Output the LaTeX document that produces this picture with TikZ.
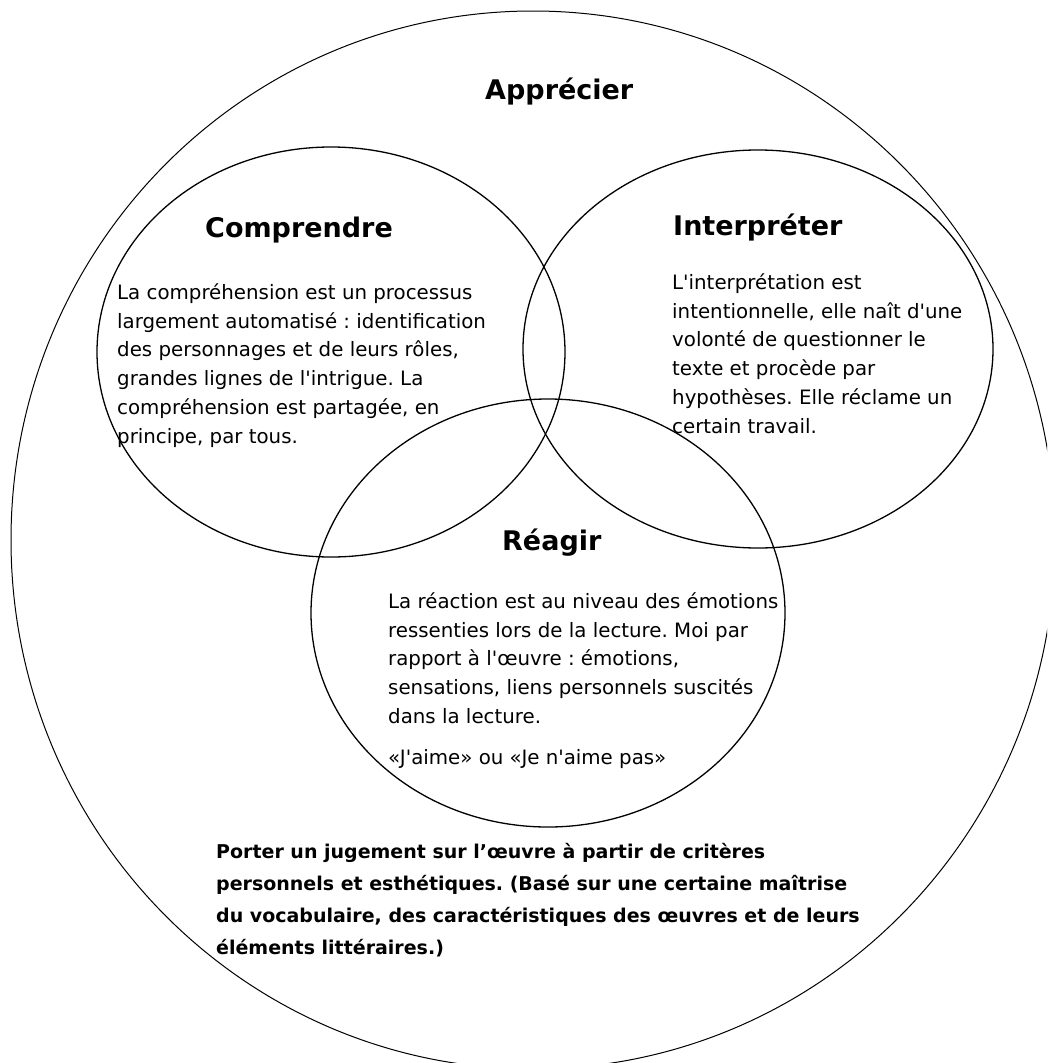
\documentclass[tikz,border=0pt]{standalone}
\usepackage{fontspec}
\setmainfont{DejaVu Sans}
\newfontfamily\bodyfont{DejaVu Sans}
\usetikzlibrary{shapes.geometric}
\tikzset{
  ring/.style={draw=black, ellipse, line width=1.3pt, inner sep=0pt},
  outerring/.style={draw=black, ellipse, line width=1pt, inner sep=0pt},
  title/.style={font=\bodyfont\bfseries\fontsize{27}{32}\selectfont, anchor=base west, inner sep=0pt},
  body/.style={font=\bodyfont\fontsize{19.8}{28.8}\selectfont\frenchspacing, align=left, anchor=north west, inner sep=0pt},
  boldbody/.style={font=\bodyfont\bfseries\fontsize{19}{32}\selectfont\frenchspacing, align=left, anchor=north west, inner sep=0pt}
}
\newcommand{\topstrut}{\rule{0pt}{17pt}}
\begin{document}
\begin{tikzpicture}[x=1pt,y=-1pt]
\clip (0,0) rectangle (1047,1063);
\fill[white] (0,0) rectangle (1047,1063);
% circles
\node[outerring, minimum width=1044pt, minimum height=1058pt] (apprecier) at (533,540) {};
\node[ring, minimum width=468pt, minimum height=410pt] (comprendre) at (331,352) {};
\node[ring, minimum width=470pt, minimum height=398pt] (interpreter) at (758,349) {};
\node[ring, minimum width=474pt, minimum height=428pt] (reagir) at (548,613) {};
% titles
\node[title] (tapp) at (485,99) {Apprécier};
\node[title] (tcomp) at (205,237) {Comprendre};
\node[title] (tint) at (673,235) {Interpréter};
\node[title] (trea) at (502,550) {Réagir};
% bodies
\node[body] (bcomp) at (117,282) {\topstrut La compréhension est un processus\\
largement automatisé : identification\\
des personnages et de leurs rôles,\\
grandes lignes de l'intrigue. La\\
compréhension est partagée, en\\
principe, par tous.};
\node[body] (bint) at (672,272) {\topstrut L'interprétation est\\
intentionnelle, elle naît d'une\\
volonté de questionner le\\
texte et procède par\\
hypothèses. Elle réclame un\\
certain travail.};
\node[body] (brea) at (388,591) {\topstrut La réaction est au niveau des émotions\\
ressenties lors de la lecture. Moi par\\
rapport à l'œuvre : émotions,\\
sensations, liens personnels suscités\\
dans la lecture.\\[12pt]
«J'aime» ou «Je n'aime pas»};
\node[boldbody] (bapp) at (216,841) {\topstrut Porter un jugement sur l’œuvre à partir de critères\\
personnels et esthétiques. (Basé sur une certaine maîtrise\\
du vocabulaire, des caractéristiques des œuvres et de leurs\\
éléments littéraires.)};
\end{tikzpicture}
\end{document}
